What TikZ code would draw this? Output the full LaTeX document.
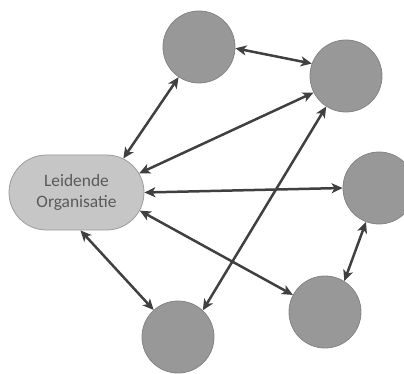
\documentclass[tikz,border=0pt]{standalone}
\usepackage{fontspec}
\setmainfont{Carlito}
\usetikzlibrary{shapes.misc,arrows.meta}
\definecolor{circfill}{HTML}{989898}
\definecolor{circline}{HTML}{848484}
\definecolor{leadfill}{HTML}{C6C6C6}
\definecolor{leadline}{HTML}{9C9C9C}
\definecolor{textgray}{HTML}{5A5A5A}
\definecolor{arrowgray}{HTML}{404040}
\begin{document}
\begin{tikzpicture}[x=1pt,y=-1pt,
  member/.style={circle, minimum size=72pt, inner sep=0pt,
    fill=circfill, draw=circline, line width=0.8pt},
  lead/.style={rounded rectangle, minimum width=135pt, minimum height=75pt,
    inner sep=0pt, fill=leadfill, draw=leadline, line width=0.8pt,
    text=textgray, font=\fontsize{17.4pt}{20.5pt}\selectfont, align=center},
  tip/.style={Stealth[length=11pt,width=10pt,inset=3pt]},
  link/.style={{Stealth[length=11pt,width=10pt,inset=3pt]}-{Stealth[length=11pt,width=10pt,inset=3pt]},
    line width=2.5pt, draw=arrowgray}]
\useasboundingbox (0,0) rectangle (404,374);

% leading organisation and its partners
\node[lead] (org) at (76.5,192.5) {Leidende\\Organisatie};
\node[member] (c1) at (199,47) {};
\node[member] (c2) at (346,76) {};
\node[member] (c3) at (379,188) {};
\node[member] (c4) at (325,312) {};
\node[member] (c5) at (178,337) {};

% two-way relations
\draw[link] (org.36) -- (c1.236);
\draw[link] (c1.-2) -- (c2.160);
\draw[link] (org.17) -- (c2.207);
\draw[link] (c5.47) -- (c2.237);
\draw[link] (org.0) -- (c3.180);
\draw[link] (c3.249) -- (c4.58);
\draw[link] (org.-16) -- (c4.152);
\draw[link] (org.-84) -- (c5.132);
\end{tikzpicture}
\end{document}
